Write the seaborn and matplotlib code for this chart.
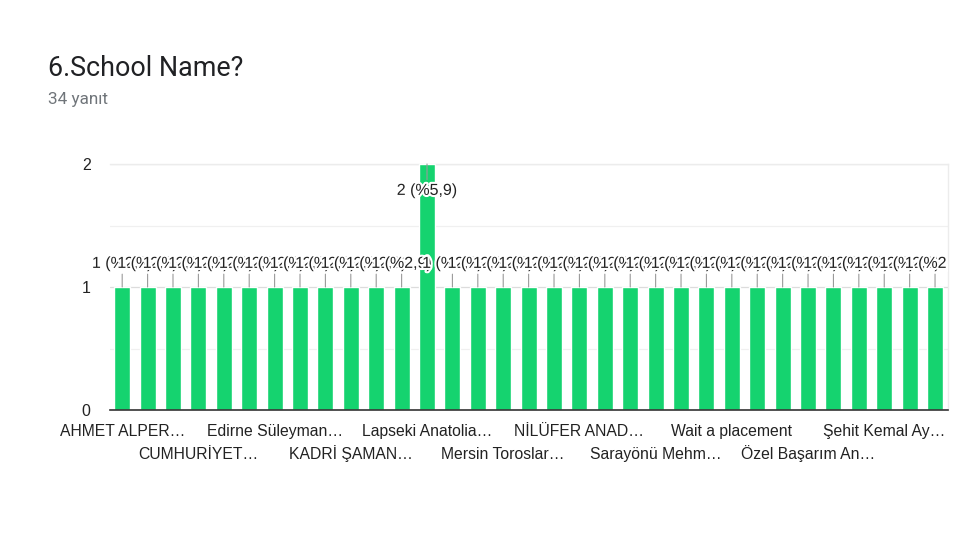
import matplotlib
matplotlib.use("Agg")
import matplotlib.pyplot as plt
import matplotlib.patheffects as pe
from matplotlib.transforms import Bbox, TransformedBbox
import seaborn as sns
import pandas as pd

# ---- data ----
schools = [
    "AHMET ALPER…", "Okul 2", "Okul 3", "CUMHURİYET…", "Okul 5", "Okul 6",
    "Edirne Süleyman…", "Okul 8", "Okul 9", "KADRİ ŞAMAN…", "Okul 11", "Okul 12",
    "Lapseki Anatolia…", "Okul 14", "Okul 15", "Mersin Toroslar…", "Okul 17", "Okul 18",
    "NİLÜFER ANAD…", "Okul 20", "Okul 21", "Sarayönü Mehm…", "Okul 23", "Okul 24",
    "Wait a placement", "Okul 26", "Okul 27", "Özel Başarım An…", "Okul 29", "Okul 30",
    "Şehit Kemal Ay…", "Okul 32", "Okul 33",
]
counts = [1, 1, 1, 1, 1, 1, 1, 1, 1, 1, 1, 1, 2, 1, 1, 1, 1, 1, 1, 1, 1, 1, 1, 1,
          1, 1, 1, 1, 1, 1, 1, 1, 1]
value_labels = ["2 (%5,9)" if c == 2 else "1 (%2,9)" for c in counts]
shown_every = 3
title = "6.School Name?"
subtitle = "34 yanıt"

df = pd.DataFrame({"school": schools, "count": counts})

sns.set_style("white")
plt.rcParams["font.family"] = ["Liberation Sans", "DejaVu Sans"]

fig = plt.figure(figsize=(9.6, 5.4), dpi=100)
ax = fig.add_axes([110 / 960, 1 - 410 / 540, 838 / 960, 246 / 540])

sns.barplot(data=df, x="school", y="count", color="#15d36f", saturation=1,
            width=0.63, ax=ax, zorder=3)

ax.set_ylim(0, 2)
ax.set_xlim(-0.48, len(schools) - 0.49)
ax.set_yticks([0, 1, 2])
ax.set_yticklabels(["0", "1", "2"], fontsize=11.5, color="#222222")
ax.set_yticks([0.5, 1.5], minor=True)
ax.grid(axis="y", which="major", color="#dcdcdc", lw=0.9, zorder=0)
ax.grid(axis="y", which="minor", color="#f0f0f0", lw=0.9, zorder=0)
ax.tick_params(axis="y", which="both", length=0, pad=14)
ax.set_xlabel("")
ax.set_ylabel("")

pos = list(range(0, len(schools), shown_every))
row1 = pos[0::2]
row2 = pos[1::2]
ax.set_xticks(row1)
ax.set_xticklabels([schools[p] for p in row1], fontsize=11.3, color="#222222")
ax.set_xticks(row2, minor=True)
ax.set_xticklabels([schools[p] for p in row2], minor=True, fontsize=11.3,
                   color="#222222")
ax.tick_params(axis="x", which="major", length=0, pad=19)
ax.tick_params(axis="x", which="minor", length=0, pad=35)
for lab in ax.get_xticklabels(which="both"):
    lab.set_verticalalignment("baseline")

ax.spines["left"].set_visible(False)
for s in ["top", "right"]:
    ax.spines[s].set_color("#ececec")
    ax.spines[s].set_linewidth(1.0)
ax.spines["bottom"].set_color("#333333")
ax.spines["bottom"].set_linewidth(1.2)
ax.spines["bottom"].set_zorder(5)

# value labels are clipped at the right edge of the plot frame only
clip = TransformedBbox(Bbox([[0.0, 0.0], [948 / 960, 1.0]]), fig.transFigure)
for i, (c, t) in enumerate(zip(counts, value_labels)):
    off = -19 if c == max(counts) else 17
    ann = ax.annotate(
        t, xy=(i, c), xytext=(0, off), textcoords="offset points",
        ha="center", va="center", fontsize=11.5, color="#222222",
        arrowprops=dict(arrowstyle="-", color="#9a9a9a", lw=0.8,
                        shrinkA=0, shrinkB=0),
        zorder=6 + i, annotation_clip=False,
    )
    ann.set_path_effects([pe.withStroke(linewidth=3, foreground="white")])
    ann.set_clip_on(True)
    ann.set_clip_path(None)
    ann.set_clip_box(clip)

fig.text(48 / 960, 1 - 68 / 540, title, fontsize=19.4, color="#202124",
         family=["Roboto", "DejaVu Sans"], va="center", ha="left")
fig.text(48 / 960, 1 - 100 / 540, subtitle, fontsize=12.3, color="#70757a",
         family=["Roboto", "DejaVu Sans"], va="center", ha="left")

fig.savefig("out.png", dpi=100, facecolor="white")
